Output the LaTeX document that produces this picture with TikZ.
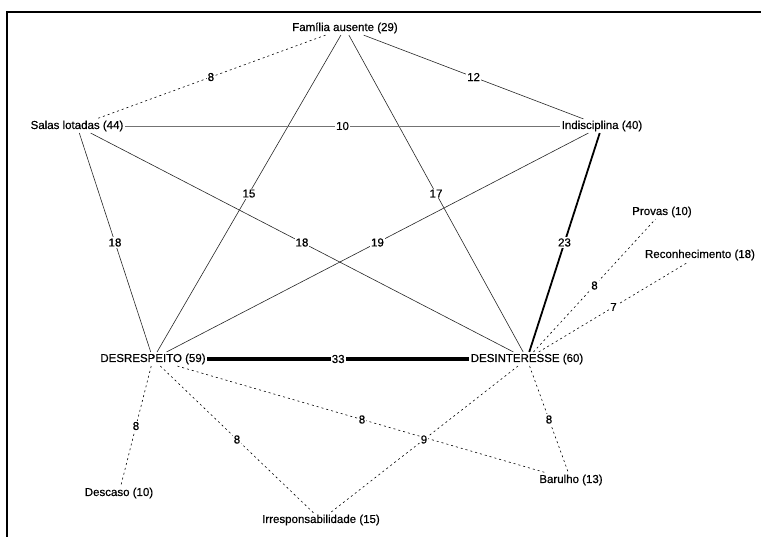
\documentclass[tikz,border=0pt]{standalone}
\usepackage{fontspec}
\setmainfont{Liberation Sans}
\newfontfamily\netfont[FakeBold=0.5]{Liberation Sans}
\usepackage{tikz}
\usetikzlibrary{positioning}

\begin{document}
\begin{tikzpicture}[
  x=1pt, y=-1pt,
  term/.style={inner sep=1.5pt, font=\netfont\fontsize{11.5}{13}\selectfont},
  wt/.style={fill=white, text=black, inner sep=1pt, font=\netfont\fontsize{11.5}{13}\selectfont},
  tie/.style={black!85, line width=0.6pt},
  weak/.style={black, line width=0.6pt, dash pattern=on 2pt off 3pt},
]
\useasboundingbox (0,0) rectangle (761,536);
\draw[line width=2pt] (7,540) -- (7,12) -- (770,12);

% terms
\node[term] (fam) at (345,28) {Família ausente (29)};
\node[term] (salas) at (77,126) {Salas lotadas (44)};
\node[term] (indis) at (602,126) {Indisciplina (40)};
\node[term] (provas) at (662,212) {Provas (10)};
\node[term] (recon) at (700,255) {Reconhecimento (18)};
\node[term] (desr) at (153,359) {DESRESPEITO (59)};
\node[term] (desi) at (527,359) {DESINTERESSE (60)};
\node[term] (desc) at (119,493) {Descaso (10)};
\node[term] (irr) at (321,520) {Irresponsabilidade (15)};
\node[term] (bar) at (571,480) {Barulho (13)};

% ties
\draw[weak] (fam) -- node[wt]{8} (salas);
\draw[tie] (fam) -- node[wt]{12} (indis);
\draw[tie] (fam) -- node[wt]{15} (desr);
\draw[tie] (fam) -- node[wt]{17} (desi);
\draw[tie, black!55] (salas) -- node[wt]{10} (indis);
\draw[tie] (salas) -- node[wt]{18} (desr);
\draw[tie] (salas) -- node[wt]{18} (desi);
\draw[tie] (indis) -- node[wt]{19} (desr);
\draw[tie, black, line width=1.8pt] (indis) -- node[wt]{23} (desi);
\draw[tie, black, line width=3.5pt] (desr) -- node[wt]{33} (desi);
\draw[weak] (desi) -- node[wt]{8} (provas);
\draw[weak] (desi) -- node[wt]{7} (recon);
\draw[weak] (desr) -- node[wt]{8} (desc);
\draw[weak] (desr) -- node[wt]{8} (irr);
\draw[weak] (desr) -- node[wt]{8} (bar);
\draw[weak] (desi) -- node[wt]{9} (irr);
\draw[weak] (desi) -- node[wt]{8} (bar);
\end{tikzpicture}
\end{document}
